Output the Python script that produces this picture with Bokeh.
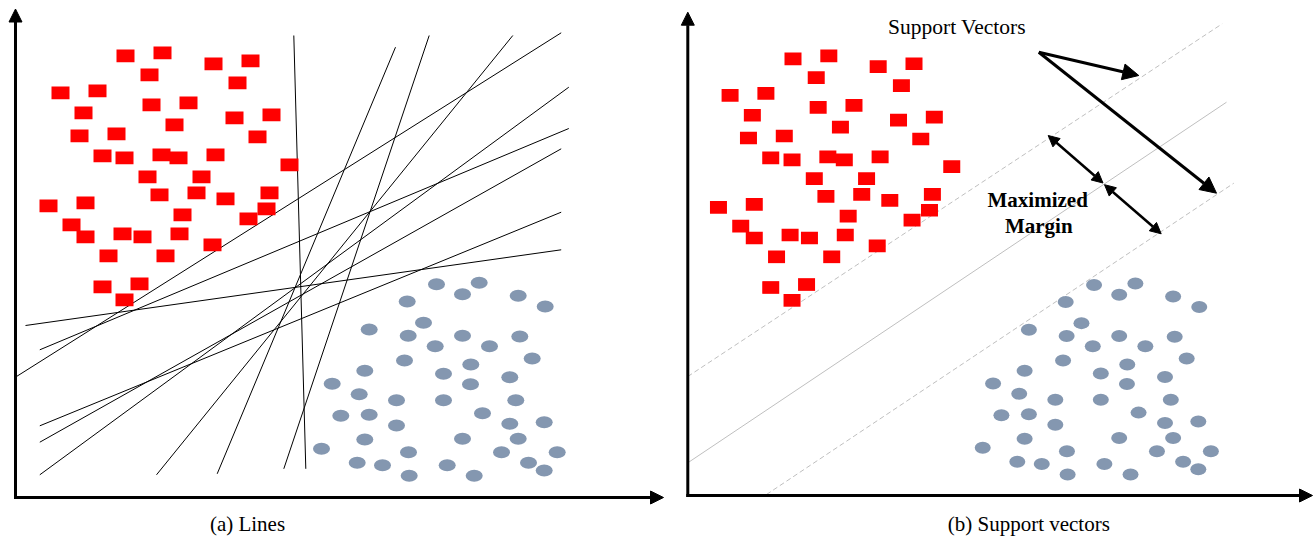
import numpy as np
from bokeh.plotting import figure
from bokeh.models import Range1d, Arrow, NormalHead
from bokeh.embed import file_html
from bokeh.resources import INLINE
from bokeh.core.properties import value

# ---------------- data (panel (a) coordinates) ----------------
# class 1: red squares (centres)
sq_x = [125, 162, 213, 250, 149, 237, 60, 97, 151, 188, 83, 234, 271, 174, 79,
        116, 257, 102, 124, 161, 178, 215, 289, 147, 201, 159, 196, 225, 269, 48,
        85, 266, 182, 71, 248, 85, 122, 142, 179, 212, 108, 165, 102, 139, 124]
sq_y = [55.3, 52.3, 63.3, 60.3, 74.3, 82.3, 92.3, 90.3, 104.3, 102.3, 112.3, 117.3,
        114.3, 124.3, 135.3, 133.3, 136.3, 155.3, 157.3, 154.3, 157.3, 154.3, 164.3,
        176.3, 176.3, 194.3, 192.3, 198.3, 192.3, 205.3, 202.3, 208.3, 214.3, 224.3,
        218.3, 236.3, 233.3, 236.3, 233.3, 244.3, 255.3, 255.3, 286.3, 283.3, 299.3]
# class 2: grey-blue dots (centres)
ci_x = [436, 478.7, 462, 406.7, 517.7, 544.7, 423, 368.7, 407.7, 462, 519.3, 434.7,
        489, 404, 531.7, 470.3, 364.3, 443, 509.3, 470, 331.7, 358.7, 396, 443, 515.3,
        482, 340.3, 368.7, 396, 509.3, 543.7, 364.3, 462, 517.7, 408, 501, 556.7,
        356.7, 382, 446.7, 528, 408.7, 473.7, 543.7, 321]
ci_y = [283.7, 282.3, 293.7, 301, 295.3, 306, 322.3, 329, 335.3, 335.3, 336, 345.7,
        345.7, 360, 358, 364, 370.3, 373.3, 376.7, 383.7, 383.3, 393.7, 399.7, 399.7,
        399.7, 412.7, 415.3, 414.3, 425, 423.3, 421.7, 439, 438.3, 438.3, 451.7, 451.7,
        451.7, 462.3, 464.7, 464.7, 462.3, 475.3, 475.3, 470, 448.3]

# candidate separating lines in panel (a)
ln_x0 = [293.3, 395, 428.7, 512.3, 560.7, 568.3, 568.3, 560.7, 560.7, 560.7]
ln_y0 = [35, 46.7, 35, 35, 32.3, 86.7, 128, 148.3, 211.7, 249.3]
ln_x1 = [305.3, 216.7, 283.3, 156, 16, 39.3, 39.3, 39.3, 39.3, 25]
ln_y1 = [468.3, 473.3, 468.3, 474.3, 376, 474.3, 349.3, 441.7, 425.3, 325]

# panel (b): hyperplane and margins
hp_x0 = [687.3, 687.3, 766]
hp_y0 = [376, 462.3, 494]
hp_x1 = [1221.7, 1226, 1233.3]
hp_y1 = [23.3, 101.7, 182.7]
hp_dash = ["5 3", "solid", "5 3"]

# annotation arrows in panel (b)
sv_from = (1038.3, 51.7)
sv_to = [(1138.3, 75), (1216, 192.7)]
mm_arrows = [((1047.7, 135), (1102.5, 182.5)), ((1104, 184.2), (1160.7, 233.3))]

captions = ["(a) Lines", "(b) Support vectors"]

# ---------------- layout ----------------
# panel (b) is panel (a) slightly compressed and shifted
def to_b(x, y):
    return 671.5 + 0.968 * np.asarray(x), 3.55 + 0.99 * np.asarray(y)

p = figure(width=1314, height=538, x_range=Range1d(0, 1314), y_range=Range1d(538, 0),
           output_backend="svg", toolbar_location=None,
           x_axis_location=None, y_axis_location=None,
           min_border=0, outline_line_color=None, background_fill_color="white")
p.xgrid.visible = False
p.ygrid.visible = False

RED = "#FF0000"
DOT = "#8497B0"
GREY = "#BFBFBF"
SERIF = value("Liberation Serif")

# panel (a)
p.segment(ln_x0, ln_y0, ln_x1, ln_y1, line_color="black", line_width=1)
p.rect(sq_x, sq_y, width=18, height=12.7, width_units="screen", height_units="screen",
       fill_color=RED, line_color=None)
p.ellipse(ci_x, ci_y, width=17, height=12, width_units="screen", height_units="screen",
          fill_color=DOT, line_color=None)

# panel (b)
for x0, y0, x1, y1, d in zip(hp_x0, hp_y0, hp_x1, hp_y1, hp_dash):
    p.line([x0, x1], [y0, y1], line_color=GREY, line_width=1, line_dash=d)
bx, by = to_b(sq_x, sq_y)
p.rect(bx, by, width=17, height=12.7, width_units="screen", height_units="screen",
       fill_color=RED, line_color=None)
cx, cy = to_b(ci_x, ci_y)
p.ellipse(cx, cy, width=16, height=12, width_units="screen", height_units="screen",
          fill_color=DOT, line_color=None)

for tx, ty in sv_to:
    p.add_layout(Arrow(end=NormalHead(size=16, fill_color="black", line_color="black", line_width=1),
                       x_start=sv_from[0], y_start=sv_from[1], x_end=tx, y_end=ty,
                       line_color="black", line_width=3))
for (a, b) in mm_arrows:
    p.add_layout(Arrow(start=NormalHead(size=11, fill_color="black", line_color="black", line_width=1),
                       end=NormalHead(size=11, fill_color="black", line_color="black", line_width=1),
                       x_start=a[0], y_start=a[1], x_end=b[0], y_end=b[1],
                       line_color="black", line_width=2.5))

p.text(x=[956.5], y=[26.5], text=["Support Vectors"], text_font=SERIF, text_font_size="21.5px",
       text_align="center", text_baseline="alphabetic", text_color="black")
p.text(x=[1037.2, 1038.3], y=[199.2, 225.8], text=["Maximized", "Margin"], text_font=SERIF,
       text_font_size="21px", text_font_style="bold", text_align="center",
       text_baseline="alphabetic", text_color="black")

# captions
p.text(x=[247, 1028.3], y=[523, 523], text=captions, text_font=SERIF, text_font_size="21px",
       text_align="center", text_baseline="alphabetic", text_color="black")

# axes with arrow heads
def axis_arrow(x0, y0, x1, y1):
    p.add_layout(Arrow(end=NormalHead(size=13, fill_color="black", line_color="black", line_width=1),
                       x_start=x0, y_start=y0, x_end=x1, y_end=y1,
                       line_color="black", line_width=3))

axis_arrow(15, 498, 15, 8.5)
axis_arrow(13.5, 497, 663, 497)
axis_arrow(687.3, 496.5, 687.3, 11.7)
axis_arrow(685.8, 495, 1312, 495)

open("out.html", "w").write(file_html(p, INLINE))
